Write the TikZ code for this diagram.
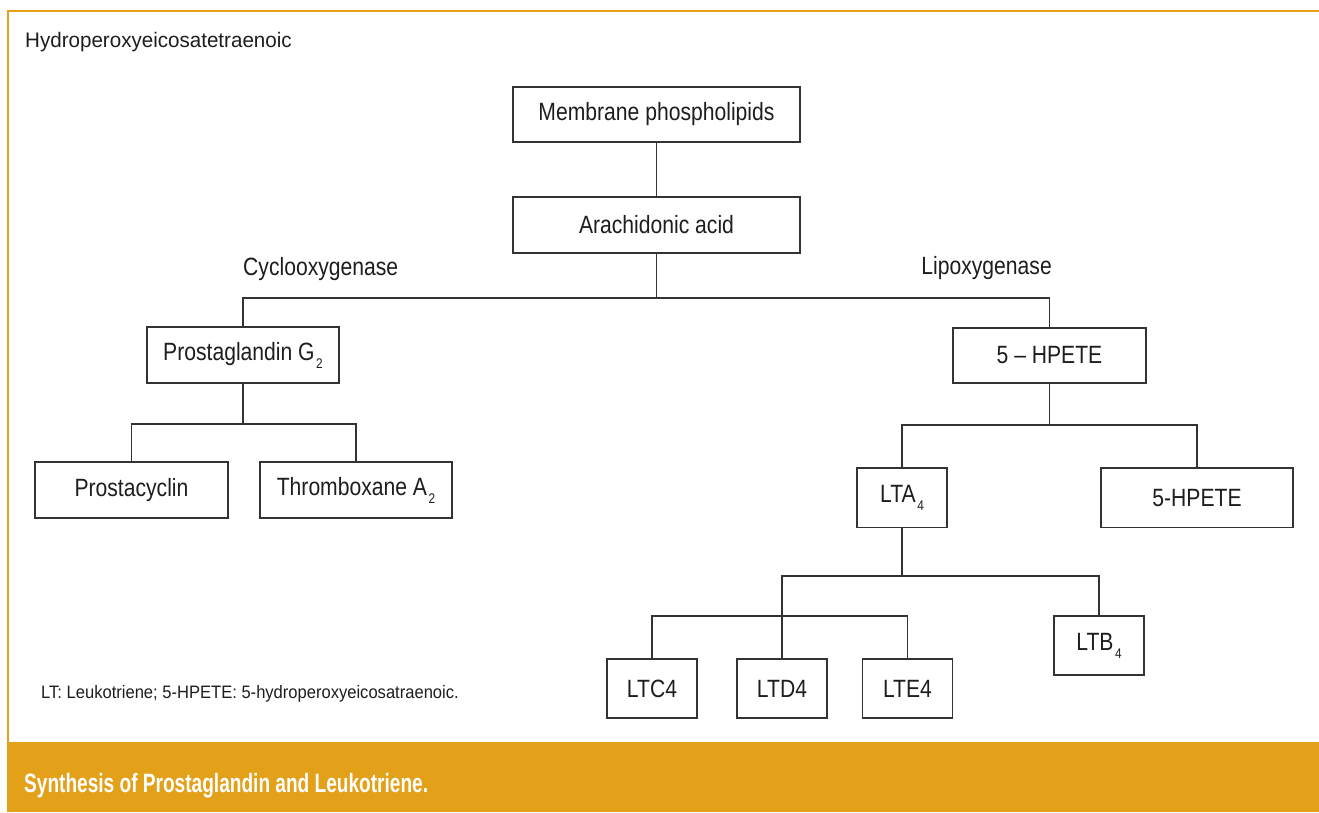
\documentclass[tikz,border=0pt]{standalone}
\usepackage{fontspec}
\setmainfont{Liberation Sans}
\newfontfamily\boxfont[FakeStretch=0.845]{Liberation Sans}
\newfontfamily\titlefont[FakeStretch=0.98]{Liberation Sans}
\newfontfamily\notefont[FakeStretch=0.92]{Liberation Sans}
\newfontfamily\capfont[FakeStretch=0.72]{Liberation Sans}
\newcommand\lsub[1]{\kern1.5pt\raisebox{-8pt}{\fontsize{14}{14}\selectfont #1}}
\definecolor{framec}{HTML}{E5A11A}
\definecolor{bannerc}{HTML}{E3A019}
\definecolor{linec}{HTML}{333333}
\definecolor{textc}{HTML}{1E1E1E}
\tikzset{
  box/.style={draw=linec, line width=1.8pt, fill=white, inner sep=0pt, text=textc,
    font=\boxfont\fontsize{25}{25}\selectfont},
  topbox/.style={box, minimum width=287pt, minimum height=55pt},
  midbox/.style={box, minimum width=192pt, minimum height=56pt},
  smallbox/.style={box, minimum width=90pt, minimum height=59pt},
  conn/.style={draw=linec, line width=1.6pt},
  enz/.style={inner sep=0pt, text=textc, font=\boxfont\fontsize{25}{25}\selectfont},
}
\begin{document}
\begin{tikzpicture}[x=1pt,y=-1pt]
\useasboundingbox (0,0) rectangle (1319,812);
\fill[white] (0,0) rectangle (1319,812);
% frame
\fill[bannerc] (7,742) rectangle (1319,812);
\draw[framec, line width=2.5pt] (8,742) -- (8,11) -- (1319,11);
% title
\node[anchor=base west, inner sep=0pt, text=textc, font=\titlefont\fontsize{21}{21}\selectfont] (title) at (25,47) {Hydroperoxyeicosatetraenoic};
% boxes
\node[topbox] (mem) at (656.5,114.5) {Membrane phospholipids};
\node[topbox, minimum height=56pt] (ara) at (656.5,225) {Arachidonic acid};
\node[midbox] (pgg) at (243,355) {Prostaglandin G\lsub{2}};
\node[midbox, minimum width=193pt, minimum height=55pt] (hpete) at (1049.5,355.5) {5 – HPETE};
\node[midbox, minimum width=193pt] (pcy) at (131.5,490) {Prostacyclin};
\node[midbox] (txa) at (356,490) {Thromboxane A\lsub{2}};
\node[smallbox, minimum height=59.5pt] (lta) at (902,497.75) {LTA\lsub{4}};
\node[midbox, minimum height=59.5pt] (hpete2) at (1197,497.75) {5-HPETE};
\node[smallbox] (ltb) at (1099,645.5) {LTB\lsub{4}};
\node[smallbox] (ltc) at (652,688.5) {LTC4};
\node[smallbox] (ltd) at (782,688.5) {LTD4};
\node[smallbox] (lte) at (907.5,688.5) {LTE4};
% enzyme labels
\node[enz, anchor=base west] (cox) at (243,275) {Cyclooxygenase};
\node[enz, anchor=base east] (lox) at (1052,274) {Lipoxygenase};
% bus coordinates
\coordinate (b1) at (656.5,298);
\coordinate (b2) at (243,424);
\coordinate (b3) at (1049.5,425);
\coordinate (b4) at (902,576);
\coordinate (b5) at (782,616);
% connectors
\draw[conn] (mem) -- (ara);
\draw[conn] (ara) -- (b1);
\draw[conn] (pgg.north) |- (b1) -| (hpete.north);
\draw[conn] (pgg) -- (b2);
\draw[conn] (pcy.north) |- (b2) -| (txa.north);
\draw[conn] (hpete) -- (b3);
\draw[conn] (lta.north) |- (b3) -| (hpete2.north);
\draw[conn] (lta) -- (b4);
\draw[conn] (ltd.north) |- (b4) -| (ltb.north);
\draw[conn] (ltc.north) |- (b5) -| (lte.north);
% note
\node[anchor=base west, inner sep=0pt, text=textc, font=\notefont\fontsize{18}{18}\selectfont] (note) at (41,698) {LT: Leukotriene; 5-HPETE: 5-hydroperoxyeicosatraenoic.};
% caption
\node[anchor=base west, inner sep=0pt, text=white, font=\capfont\bfseries\fontsize{26.5}{26.5}\selectfont] (caption) at (24,792) {Synthesis of Prostaglandin and Leukotriene.};
\end{tikzpicture}
\end{document}
